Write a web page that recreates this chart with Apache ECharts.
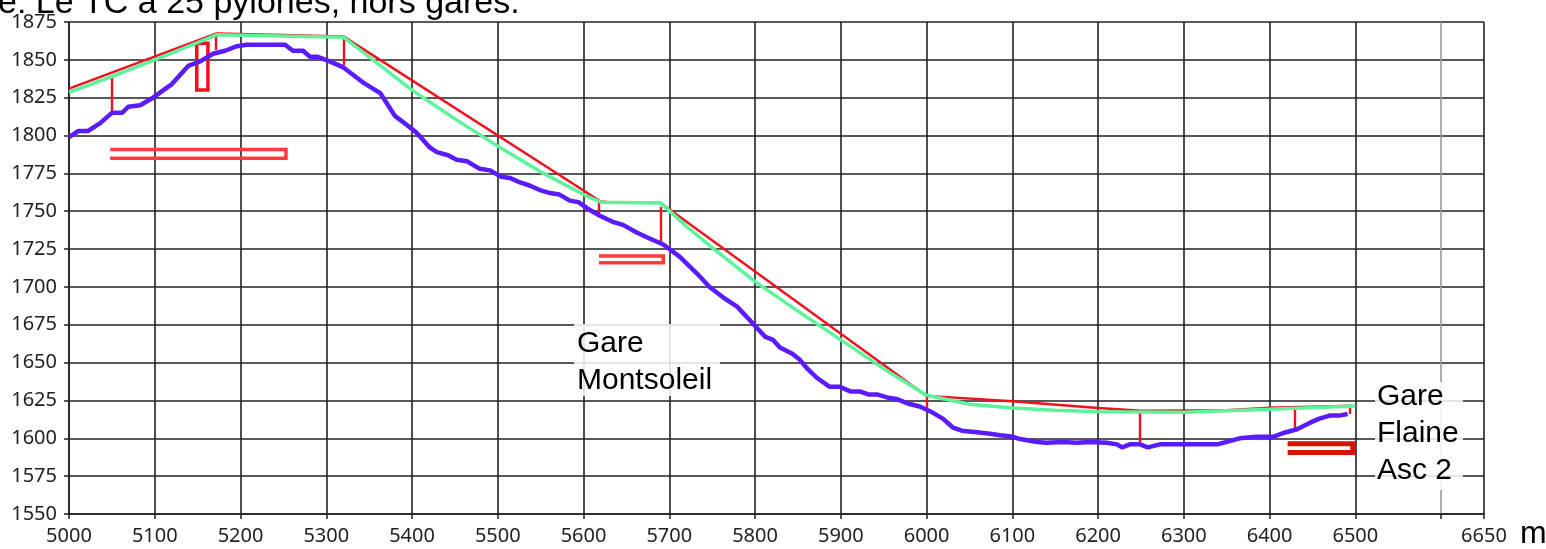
<!doctype html>
<html>
<head>
<meta charset="utf-8">
<title>Profil en long TC</title>
<style>
html, body { margin: 0; padding: 0; background: #fff; }
#main { width: 1546px; height: 549px; }
</style>
</head>
<body>
<div id="main"></div>
<script src="https://cdn.jsdelivr.net/npm/echarts@6/dist/echarts.min.js"></script>
<script>
// axis ranges (m)
var xMin = 5000, xMax = 6650, xStep = 100, xHiddenLabel = 6600;
var yMin = 1550, yMax = 1875, yStep = 25;

// terrain profile (blue)
var terrain = [
    [5000,1799],[5011,1803],[5022,1803],[5036,1808],[5050,1815],[5062,1815],[5069,1819],[5083,1820],
    [5098,1825],[5120,1834],[5139,1846],[5153,1849],[5168,1854],[5182,1856],[5196,1859],[5207,1860],
    [5252,1860],[5261,1856],[5273,1856],[5281,1852],[5290,1852],[5304,1849],[5320,1845],[5343,1835],
    [5363,1828],[5372,1820],[5380,1813],[5394,1807],[5405,1802],[5421,1792],[5429,1789],[5442,1787],
    [5452,1784],[5464,1783],[5479,1778],[5491,1777],[5503,1773],[5514,1772],[5526,1769],[5537,1767],
    [5549,1764],[5561,1762],[5572,1761],[5584,1757],[5594,1756],[5604,1752],[5619,1747],[5634,1743],
    [5646,1741],[5662,1736],[5677,1732],[5693,1728],[5712,1720],[5732,1709],[5747,1700],[5763,1693],
    [5779,1687],[5794,1678],[5802,1673],[5812,1667],[5821,1665],[5829,1660],[5843,1656],[5852,1652],
    [5861,1646],[5872,1640],[5887,1634],[5899,1634],[5911,1631],[5922,1631],[5932,1629],[5942,1629],
    [5954,1627],[5965,1626],[5978,1623],[5992,1621],[6007,1617],[6019,1613],[6031,1607],[6041,1605],
    [6059,1604],[6074,1603],[6086,1602],[6101,1601],[6109,1599.5],[6129,1597.6],[6140,1597],[6159,1597.6],
    [6175,1597],[6190,1597.6],[6210,1597],[6222,1596],[6228,1594],[6237,1596],[6249,1596],[6258,1594],
    [6272,1596],[6299,1596],[6339,1596],[6350,1597.6],[6365,1600],[6385,1601],[6404,1601],[6416,1603.5],
    [6432,1606],[6446,1610],[6458,1613],[6470,1615],[6481,1615],[6491,1616]
];

// cable line (green)
var cable = [
    [5000,1828.5],[5050,1839],[5100,1850],[5172,1866.5],[5320,1865],[5350,1852],[5400,1830],
    [5450,1811],[5500,1793],[5550,1776],[5600,1761],[5620,1756],[5690,1755.5],[5720,1740],
    [5750,1726],[5800,1703.5],[5850,1684],[5900,1665],[5950,1646],[6000,1628.5],[6050,1622.5],
    [6100,1620],[6150,1618.5],[6200,1617.6],[6300,1617.2],[6400,1619.2],[6500,1621.3]
];

// cable chord (red)
var chord = [
    [5000,1831],[5172,1867.5],[5250,1866.5],[5320,1865.5],[5620,1756.5],[5640,1755.5],
    [5690,1755.5],[6000,1628],[6100,1624.5],[6200,1620],[6250,1618.3],[6350,1618.5],
    [6400,1620.3],[6495,1621.5]
];

// pylons: [x, foot, head]
var pylons = [
    [5050,1816,1838.5],[5171,1856.5,1866.5],[5320,1846.5,1864],[5618,1747.5,1756.3],
    [5690,1729,1753],[6000,1618.7,1628],[6249,1596.7,1617.6],[6429,1606,1619.8],[6494,1616,1621.3]
];

// station marks: [x0, x1, yTop, yBottom]
var stationMarks = [
    [5048,5253,1790.8,1785],
    [5618,5693,1720.5,1716]
];
var stationMarkEnd = [6421,6497,1596.4,1590.6];
var towerBox = [5149,5162,1861,1830];

var stationNames = ['Gare\nMontsoleil', 'Gare\nFlaine\nAsc 2'];
var titleText = 'e: Le TC à 25 pylônes, hors gares.';

function bracket(m) {
    return { coords: [[m[0], m[2]], [m[1], m[2]], [m[1], m[3]], [m[0], m[3]]] };
}

var gridColors = [];
for (var v = xMin; v < xMax; v += xStep) {
    gridColors.push(v === xHiddenLabel ? '#9a9a9a' : '#222');
}

var chart = echarts.init(document.getElementById('main'));

chart.setOption({
    animation: false,
    grid: { left: 69, right: 62, top: 22, bottom: 35, containLabel: false, outerBoundsMode: 'none' },
    xAxis: {
        type: 'value', min: xMin, max: xMax, interval: xStep,
        name: 'm', nameLocation: 'end', nameGap: 36,
        nameTextStyle: { fontFamily: 'Liberation Sans', fontSize: 32, color: '#000', verticalAlign: 'top', padding: [4, 0, 0, 0] },
        axisLine: { show: true, onZero: false, lineStyle: { color: '#222', width: 1.5 } },
        axisTick: { show: true, length: 5, lineStyle: { color: '#222', width: 1.5 } },
        axisLabel: {
            fontFamily: 'Noto Sans', fontSize: 20, color: '#222', margin: 12,
            formatter: function (v) { return v === xHiddenLabel ? '' : String(v); }
        },
        splitLine: { show: true, lineStyle: { color: gridColors, width: 1.6 } }
    },
    yAxis: {
        type: 'value', min: yMin, max: yMax, interval: yStep,
        axisLine: { show: true, lineStyle: { color: '#222', width: 1.5 } },
        axisTick: { show: true, length: 5, lineStyle: { color: '#222', width: 1.5 } },
        axisLabel: {
            fontFamily: 'Noto Sans', fontSize: 20, color: '#222', margin: 12,
            formatter: function (v) { return String(v); }
        },
        splitLine: { show: true, lineStyle: { color: '#222', width: 1.6 } }
    },
    series: [
        {
            type: 'line', data: chord, showSymbol: false, z: 3,
            lineStyle: { color: '#f2101e', width: 2.4 }
        },
        {
            type: 'lines', coordinateSystem: 'cartesian2d', z: 3,
            lineStyle: { color: '#f2101e', width: 2.4, opacity: 1 },
            data: pylons.map(function (p) { return { coords: [[p[0], p[1]], [p[0], p[2]]] }; })
        },
        {
            type: 'lines', coordinateSystem: 'cartesian2d', polyline: true, z: 3,
            lineStyle: { color: '#ff3b3b', width: 3.5, opacity: 1 },
            data: stationMarks.map(bracket)
        },
        {
            type: 'lines', coordinateSystem: 'cartesian2d', polyline: true, z: 3,
            lineStyle: { color: '#dc1005', width: 5, opacity: 1 },
            data: [bracket(stationMarkEnd)]
        },
        {
            type: 'lines', coordinateSystem: 'cartesian2d', polyline: true, z: 3,
            lineStyle: { color: '#f2101e', width: 3.5, opacity: 1 },
            data: [{ coords: [[towerBox[0], towerBox[2]], [towerBox[1], towerBox[2]], [towerBox[1], towerBox[3]], [towerBox[0], towerBox[3]], [towerBox[0], towerBox[2]]] }]
        },
        {
            type: 'line', data: cable, showSymbol: false, z: 4,
            lineStyle: { color: '#5ef29c', width: 3.5 }
        },
        {
            type: 'line', data: terrain, showSymbol: false, z: 5,
            lineStyle: { color: '#5a1cff', width: 4.5 }
        }
    ],
    graphic: [
        {
            type: 'text', left: -2, top: -13, z: 10,
            style: { text: titleText, font: '34px "Liberation Sans"', fill: '#000' }
        },
        {
            type: 'rect', z: 10, shape: { x: 574, y: 324, width: 146, height: 72 },
            style: { fill: 'rgba(255,255,255,0.85)' }
        },
        {
            type: 'text', z: 11, x: 577, y: 325,
            style: { text: stationNames[0], font: '30px "Liberation Sans"', lineHeight: 37, fill: '#000' }
        },
        {
            type: 'rect', z: 10, shape: { x: 1375, y: 382, width: 88, height: 108 },
            style: { fill: 'rgba(255,255,255,0.85)' }
        },
        {
            type: 'text', z: 11, x: 1377, y: 378,
            style: { text: stationNames[1], font: '30px "Liberation Sans"', lineHeight: 37, fill: '#000' }
        }
    ]
});
</script>
</body>
</html>
